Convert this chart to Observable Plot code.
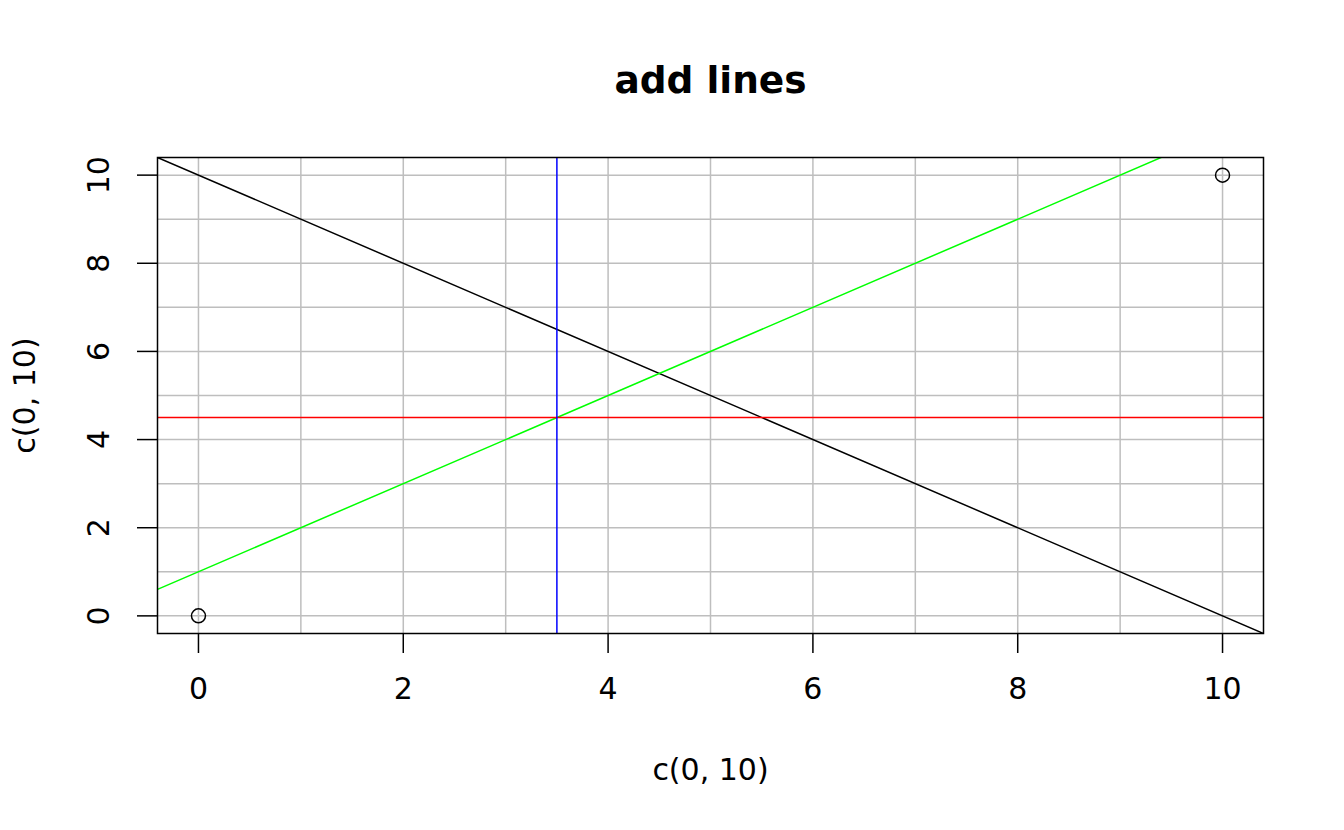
<!DOCTYPE html>
<html>
<head>
<meta charset="utf-8">
<script src="https://cdn.jsdelivr.net/npm/d3@7"></script>
<script src="https://cdn.jsdelivr.net/npm/@observablehq/plot@0.6"></script>
<style>
  html, body { margin: 0; padding: 0; background: #fff; }
  svg { display: block; }
</style>
</head>
<body>
<div id="chart"></div>
<script>
// ---- data ----
const pointsX = [0, 10];
const pointsY = [0, 10];
const ablineIntercepts = [10, 1];
const ablineSlopes = [-1, 1];
const ablineColors = ["black", "#00ff00"];
const hLineY = [4.5];
const vLineX = [3.5];
const gridValues = [0, 1, 2, 3, 4, 5, 6, 7, 8, 9, 10];
const tickValues = [0, 2, 4, 6, 8, 10];
const title = "add lines";
const xLabel = "c(0, 10)";
const yLabel = "c(0, 10)";

const xDomain = [-0.4, 10.4];
const yDomain = [-0.4, 10.4];

const points = pointsX.map((x, i) => ({x, y: pointsY[i]}));
const ablines = [];
ablineIntercepts.forEach((a, i) => {
  for (const x of xDomain) ablines.push({x, y: a + ablineSlopes[i] * x, id: i, color: ablineColors[i]});
});

const font = "DejaVu Sans, sans-serif";

const chart = Plot.plot({
  width: 1344,
  height: 830,
  marginLeft: 157,
  marginRight: 81,
  marginTop: 157,
  marginBottom: 197,
  style: {fontFamily: font, fontSize: "30px", background: "white", color: "black"},
  x: {domain: xDomain},
  y: {domain: yDomain},
  marks: [
    Plot.ruleX(gridValues, {x: d => d, stroke: "#bebebe", strokeWidth: 1.5}),
    Plot.ruleY(gridValues, {y: d => d, stroke: "#bebebe", strokeWidth: 1.5}),
    Plot.line(ablines, {x: "x", y: "y", z: "id", stroke: "color", strokeWidth: 1.5, clip: true}),
    Plot.ruleY(hLineY, {y: d => d, stroke: "#ff0000", strokeWidth: 1.5}),
    Plot.ruleX(vLineX, {x: d => d, stroke: "#0000ff", strokeWidth: 1.5}),
    Plot.dot(points, {x: "x", y: "y", r: 7, stroke: "black", strokeWidth: 1.5, fill: "none"}),
    Plot.frame({stroke: "black", strokeWidth: 1.5}),
    Plot.axisX(tickValues, {tickSize: 20, tickPadding: 24, strokeWidth: 1.5, fontSize: 30, label: null}),
    Plot.axisY(tickValues, {tickSize: 20, tickFormat: () => "", strokeWidth: 1.5, label: null}),
    Plot.text(tickValues, {y: d => d, text: d => String(d), frameAnchor: "left", dx: -58, rotate: -90, fontSize: 30, textAnchor: "middle", lineAnchor: "middle"}),
    Plot.text([title], {text: d => d, frameAnchor: "top", dy: -77, fontSize: 37.5, fontWeight: "bold", lineAnchor: "middle"}),
    Plot.text([xLabel], {text: d => d, frameAnchor: "bottom", dy: 137, fontSize: 30, lineAnchor: "middle"}),
    Plot.text([yLabel], {text: d => d, frameAnchor: "left", dx: -132, rotate: -90, fontSize: 30, textAnchor: "middle", lineAnchor: "middle"})
  ]
});
document.getElementById("chart").appendChild(chart);
</script>
</body>
</html>
